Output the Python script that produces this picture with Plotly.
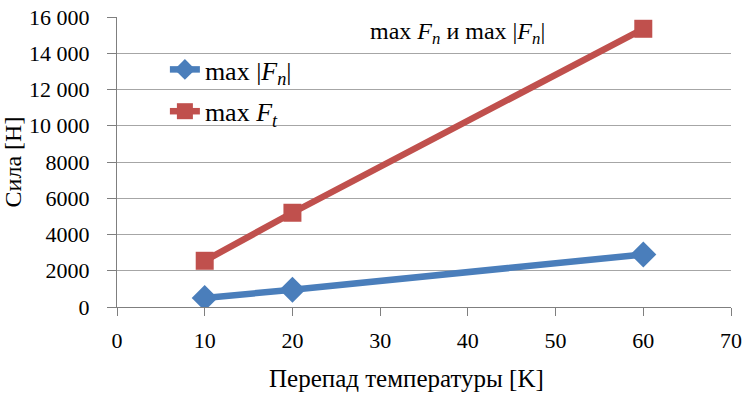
import plotly.graph_objects as go

# Temperature difference [K]
delta_t = [10, 20, 60]
# Maximum forces [N]
max_abs_fn = [500, 950, 2900]
max_ft = [2550, 5200, 15350]

y_tick_vals = [0, 2000, 4000, 6000, 8000, 10000, 12000, 14000, 16000]
y_tick_text = ["0", "2000", "4000", "6000", "8000", "10 000", "12 000", "14 000", "16 000"]
x_tick_vals = [0, 10, 20, 30, 40, 50, 60, 70]

FONT = "Liberation Serif"
BLUE = "#4A7EBB"
RED = "#C0504D"

fig = go.Figure()
fig.add_trace(go.Scatter(
    x=delta_t, y=max_abs_fn, mode="lines+markers",
    name="max |<i>F</i><sub><i>n</i></sub>|", legendgroup="a",
    line=dict(color=BLUE, width=6.5),
    marker=dict(symbol="diamond", size=20, color=BLUE),
))
fig.add_trace(go.Scatter(
    x=delta_t, y=max_ft, mode="lines+markers",
    name="max <i>F</i><sub><i>t</i></sub>", legendgroup="b",
    line=dict(color=RED, width=6.5),
    marker=dict(symbol="square", size=18, color=RED),
))

# chart heading inside the plot area
fig.add_annotation(
    x=0.555, y=0.945, xref="paper", yref="paper", showarrow=False,
    yanchor="middle",
    text="max <i>F</i><sub><i>n</i></sub> и max |<i>F</i><sub><i>n</i></sub>|",
    font=dict(family=FONT, size=24, color="black"),
)
# x-axis title, placed slightly left of the axis centre
fig.add_annotation(
    x=0.472, y=-0.248, xref="paper", yref="paper", showarrow=False,
    xanchor="center", yanchor="middle",
    text="Перепад температуры [K]",
    font=dict(family=FONT, size=25, color="black"),
)

fig.update_layout(
    width=743, height=393,
    margin=dict(l=117, r=12, t=17, b=86),
    paper_bgcolor="white", plot_bgcolor="white",
    font=dict(family=FONT, size=22, color="black"),
    showlegend=True,
    legend=dict(
        x=0.078, y=0.9, xanchor="left", yanchor="top",
        traceorder="grouped", tracegroupgap=5,
        font=dict(family=FONT, size=26, color="black"),
        bgcolor="rgba(0,0,0,0)",
    ),
    xaxis=dict(
        range=[0, 70], tickvals=x_tick_vals, showgrid=False, zeroline=False,
        showline=True, linecolor="#7f7f7f", linewidth=1,
        ticks="outside", ticklen=8, tickcolor="#7f7f7f",
        tickfont=dict(family=FONT, size=22), ticklabelstandoff=6,
        ticklabeloverflow="allow", automargin=False,
    ),
    yaxis=dict(
        range=[0, 16000], tickvals=y_tick_vals, ticktext=y_tick_text,
        showgrid=True, gridcolor="#a6a6a6", gridwidth=1, zeroline=False,
        showline=True, linecolor="#7f7f7f", linewidth=1,
        ticks="outside", ticklen=9, tickcolor="#7f7f7f",
        tickfont=dict(family=FONT, size=22), ticklabelstandoff=13,
        automargin=False,
        title=dict(text="Сила [Н]", font=dict(family=FONT, size=24), standoff=2),
    ),
)

fig.write_html("out.html")
